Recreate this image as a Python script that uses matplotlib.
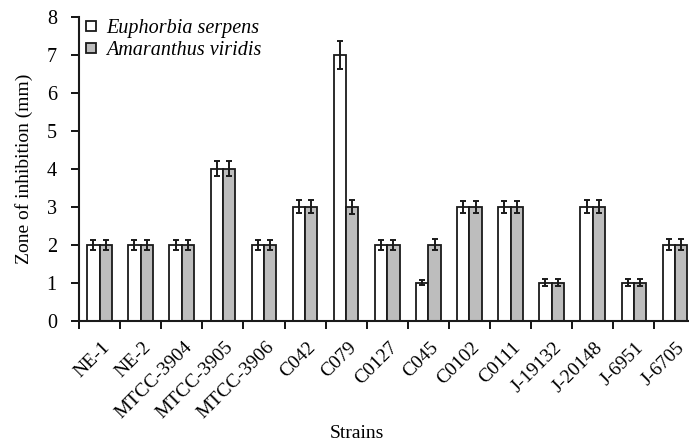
import numpy as np
import matplotlib
matplotlib.use('Agg')
import matplotlib.pyplot as plt
import matplotlib.transforms as mtransforms
from matplotlib.lines import Line2D

# Data
strains = ['NE-1', 'NE-2', 'MTCC-3904', 'MTCC-3905', 'MTCC-3906', 'C042', 'C079',
           'C0127', 'C045', 'C0102', 'C0111', 'J-19132', 'J-20148', 'J-6951', 'J-6705']
euphorbia = [2, 2, 2, 4, 2, 3, 7, 2, 1, 3, 3, 1, 3, 1, 2]
euphorbia_err = [0.13, 0.13, 0.13, 0.2, 0.13, 0.17, 0.36, 0.13, 0.07, 0.15, 0.15, 0.09, 0.17, 0.09, 0.14]
amaranthus = [2, 2, 2, 4, 2, 3, 3, 2, 2, 3, 3, 1, 3, 1, 2]
amaranthus_err = [0.13, 0.13, 0.13, 0.2, 0.13, 0.17, 0.18, 0.13, 0.14, 0.15, 0.15, 0.09, 0.17, 0.09, 0.14]

plt.rcParams['font.family'] = ['Liberation Serif', 'DejaVu Serif']

fig = plt.figure(figsize=(6.89, 4.43), dpi=100)
W, H = 689, 443
ax = fig.add_axes([79 / W, (H - 320.7) / H, 616.5 / W, 303.7 / H])

x = np.arange(len(strains))
bw = 0.3
err_kw = dict(ecolor='#1a1a1a', elinewidth=1.4, capsize=2.2, capthick=1.4)
ax.bar(x - bw / 2, euphorbia, bw, yerr=euphorbia_err, color='white',
       edgecolor='#1a1a1a', linewidth=1.3, error_kw=err_kw, zorder=2)
ax.bar(x + bw / 2, amaranthus, bw, yerr=amaranthus_err, color='#bdbdbd',
       edgecolor='#1a1a1a', linewidth=1.3, error_kw=err_kw, zorder=2)

ax.set_xlim(-0.5, len(strains) - 0.5)
ax.set_ylim(0, 8)
ax.set_yticks(range(0, 9))
ax.tick_params(axis='y', labelsize=14.5, length=6, width=1.3, direction='out', pad=10)

# x ticks at category boundaries, labels at centres
ax.set_xticks(np.arange(len(strains)) - 0.5)
ax.set_xticklabels([])
ax.set_xticks(x, minor=True)
ax.set_xticklabels(strains, minor=True, rotation=45, ha='right',
                   rotation_mode='anchor', fontsize=14)
ax.tick_params(axis='x', which='major', length=6, width=1.3, direction='out')
ax.tick_params(axis='x', which='minor', length=0, pad=13)
shift = mtransforms.ScaledTranslation(1.5 / 100, 0, fig.dpi_scale_trans)
for lab in ax.get_xticklabels(minor=True):
    lab.set_transform(lab.get_transform() + shift)

for s in ['top', 'right']:
    ax.spines[s].set_visible(False)
for s in ['left', 'bottom']:
    ax.spines[s].set_linewidth(1.5)
    ax.spines[s].set_color('#1a1a1a')

ax.set_ylabel('Zone of inhibition (mm)', fontsize=14, labelpad=10)
fig.text(357 / W, 1 - 433 / H, 'Strains', fontsize=14, ha='center', va='center')

handles = [
    Line2D([], [], marker='s', linestyle='none', markersize=7,
           markerfacecolor='white', markeredgecolor='#1a1a1a', markeredgewidth=1.3),
    Line2D([], [], marker='s', linestyle='none', markersize=7,
           markerfacecolor='#bdbdbd', markeredgecolor='#1a1a1a', markeredgewidth=1.3),
]
fig.legend(handles, ['Euphorbia serpens', 'Amaranthus viridis'],
           loc='upper left', bbox_to_anchor=(83 / W, 1 - 19 / H), frameon=False,
           prop={'style': 'italic', 'size': 14.5}, handlelength=0.8,
           handletextpad=0.35, labelspacing=0.15, borderaxespad=0, borderpad=0)

fig.savefig('out.png', dpi=100)
